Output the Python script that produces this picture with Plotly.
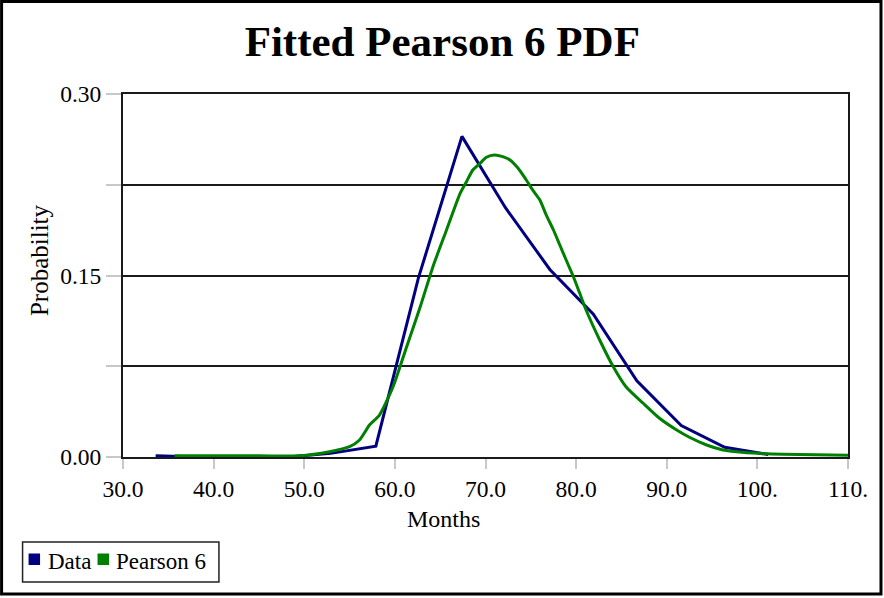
import plotly.graph_objects as go

# Observed frequency polygon (bin midpoints, months) and probabilities
data_months = [33.6, 38.4, 43.3, 48.1, 52.9, 57.9, 62.6, 67.4, 72.2, 77.1, 81.9, 86.7, 91.6, 96.4, 101.2]
data_prob = [0.001, 0.0, 0.0, 0.0, 0.003, 0.009, 0.148, 0.265, 0.206, 0.155, 0.118, 0.063, 0.026, 0.008, 0.002]

# Fitted Pearson 6 density sampled along the month axis
fit_months = [35.7, 45.0, 49.5, 52.8, 55.0, 56.1, 57.2, 58.3, 59.8, 61.3, 62.8, 64.2, 65.7, 67.2,
              67.9, 68.6, 69.4, 70.1, 71.0, 71.9, 72.7, 73.6, 74.5, 75.2, 76.0, 76.7, 77.5,
              78.2, 78.9, 79.7, 80.4, 81.1, 82.6, 84.1, 85.5, 87.4, 89.2, 91.1, 92.5, 94.4,
              96.2, 97.7, 100.2, 102.8, 110.0]
fit_prob = [0.001, 0.001, 0.001, 0.0044, 0.0085, 0.014, 0.0264, 0.0347, 0.0581, 0.0912, 0.1242, 0.1573,
            0.1876, 0.2179, 0.2275, 0.2372, 0.2427, 0.2477, 0.2496, 0.2482, 0.2455, 0.2386, 0.2289,
            0.2207, 0.2124, 0.200, 0.1876, 0.1752, 0.1628, 0.149, 0.1353, 0.1215, 0.0967, 0.0746,
            0.0581, 0.0444, 0.032, 0.0223, 0.0163, 0.0099, 0.0058, 0.0044, 0.003, 0.0022, 0.0015]

x_ticks = [30, 40, 50, 60, 70, 80, 90, 100, 110]
x_labels = ["30.0", "40.0", "50.0", "60.0", "70.0", "80.0", "90.0", "100.", "110."]
y_ticks = [0.0, 0.075, 0.15, 0.225, 0.30]
y_labels = ["0.00", "", "0.15", "", "0.30"]

series_names = ["Data", "Pearson 6"]
series_colors = ["#000080", "#008000"]

W, H = 884, 598
L, R, T, B = 123, 35.5, 94, 141
PW, PH = W - L - R, H - T - B
SERIF = "Times New Roman, Liberation Serif, serif"


def px(x):
    return (x - L) / PW


def py(y):
    return (H - B - y) / PH


fig = go.Figure()
fig.add_trace(go.Scatter(x=data_months, y=data_prob, mode="lines", name=series_names[0],
                         line=dict(color=series_colors[0], width=3), showlegend=False))
fig.add_trace(go.Scatter(x=fit_months, y=fit_prob, mode="lines", name=series_names[1],
                         line=dict(color=series_colors[1], width=3, shape="spline", smoothing=0.6),
                         showlegend=False))

shapes = [
    # outer frame
    dict(type="rect", xref="paper", yref="paper", x0=px(1.5), x1=px(881.5), y0=py(594), y1=py(1.5),
         line=dict(color="black", width=3), layer="above"),
    # legend box with colour swatches
    dict(type="rect", xref="paper", yref="paper", x0=px(22.5), x1=px(219), y0=py(582), y1=py(542),
         line=dict(color="#222222", width=1.5), fillcolor="white"),
    dict(type="rect", xref="paper", yref="paper", x0=px(28.5), x1=px(40), y0=py(565), y1=py(553.5),
         line=dict(width=0), fillcolor=series_colors[0]),
    dict(type="rect", xref="paper", yref="paper", x0=px(97.5), x1=px(109), y0=py(565), y1=py(553.5),
         line=dict(width=0), fillcolor=series_colors[1]),
]

annotations = [
    dict(text="Months", xref="paper", yref="paper", x=px(443.5), y=py(519), showarrow=False,
         xanchor="center", yanchor="middle", font=dict(family=SERIF, size=24, color="black")),
    dict(text="Probability", xref="paper", yref="paper", x=px(39), y=py(260), showarrow=False,
         textangle=-90, xanchor="center", yanchor="middle",
         font=dict(family=SERIF, size=25, color="black")),
    dict(text=series_names[0], xref="paper", yref="paper", x=px(45.5), y=py(561), showarrow=False,
         xanchor="left", yanchor="middle", font=dict(family=SERIF, size=23, color="black")),
    dict(text=series_names[1], xref="paper", yref="paper", x=px(113.5), y=py(561), showarrow=False,
         xanchor="left", yanchor="middle", font=dict(family=SERIF, size=23, color="black")),
]

fig.update_layout(
    width=W, height=H,
    margin=dict(l=L, r=R, t=T, b=B, pad=0),
    paper_bgcolor="white", plot_bgcolor="white",
    title=dict(text="<b>Fitted Pearson 6 PDF</b>", x=px(442.5), xref="paper", xanchor="center",
               y=1 - 41 / H, yanchor="middle",
               font=dict(family=SERIF, size=43, color="black")),
    shapes=shapes,
    annotations=annotations,
    showlegend=False,
)

fig.update_xaxes(range=[30, 110], tickvals=x_ticks, ticktext=x_labels,
                 ticks="outside", ticklen=10, tickwidth=2, tickcolor="#c8c8c8",
                 showgrid=False, zeroline=False,
                 showline=True, linecolor="#1a1a1a", linewidth=2, mirror=True,
                 tickfont=dict(family=SERIF, size=23.5, color="black"))
fig.update_yaxes(range=[0, 0.30], tickvals=y_ticks, ticktext=y_labels,
                 ticks="outside", ticklen=15, tickwidth=2, tickcolor="#c8c8c8",
                 showgrid=True, gridcolor="#1a1a1a", gridwidth=2, zeroline=False,
                 showline=True, linecolor="#1a1a1a", linewidth=2, mirror=True,
                 tickfont=dict(family=SERIF, size=23.5, color="black"))

fig.write_html("out.html")
